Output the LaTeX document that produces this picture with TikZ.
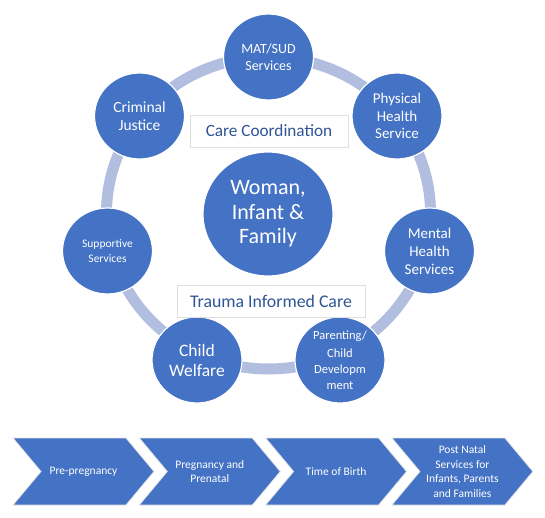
\documentclass[tikz,border=0pt]{standalone}
\usepackage{fontspec}
\setmainfont{Carlito}
\usetikzlibrary{shapes.geometric}

\definecolor{bubblue}{RGB}{68,114,196}
\definecolor{ringblue}{RGB}{178,190,224}
\definecolor{tagblue}{RGB}{47,85,151}

\newcommand{\fsz}[2]{\fontsize{#1}{#2}\selectfont}

\begin{document}
\begin{tikzpicture}[x=1pt, y=-1pt,
  bub/.style={ellipse, fill=bubblue, draw=white, line width=1.2pt, text=white, align=center,
    inner sep=-2pt, minimum width=90pt, minimum height=86pt},
  hub/.style={bub, minimum width=130pt, minimum height=124pt, font=\fsz{22}{24.5}},
  ring/.style={draw=ringblue, line width=11pt},
  tag/.style={draw=black!13, fill=white, text=tagblue, minimum height=32pt, inner sep=0pt},
  chev/.style={fill=bubblue, draw=black!10, line width=0.8pt},
  chevtxt/.style={text=white, align=center, font=\fsz{11.5}{14.5}},
]
  \useasboundingbox (0,0) rectangle (545,518);

  % ring behind the services
  \draw[ring] (268.5,213) ellipse [x radius=162pt, y radius=156pt];

  % centre
  \node[hub] (family) at (268,214) {Woman,\\Infant \&\\Family};

  % services round the ring
  \node[bub, font=\fsz{14}{16.5}] (mat) at (268.5,57) {MAT/SUD\\Services};
  \node[bub, font=\fsz{15}{17.5}] (physical) at (397,116) {Physical\\Health\\Service};
  \node[bub, font=\fsz{15}{18}] (mental) at (429.5,251) {Mental\\Health\\Services};
  \node[bub, font=\fsz{12.5}{16}] (parenting) at (340,360) {Parenting/\\[2pt]Child\\Developm\\ment};
  \node[bub, font=\fsz{17.5}{20}] (welfare) at (197,360) {Child\\Welfare};
  \node[bub, font=\fsz{11.5}{15}] (supportive) at (107.5,251) {Supportive\\Services};
  \node[bub, font=\fsz{15.5}{18}] (justice) at (139.5,116) {Criminal\\Justice};

  % labels inside the ring
  \node[tag, minimum width=158pt, font=\fsz{17.2}{19}] (coord) at (269,131) {Care Coordination};
  \node[tag, minimum width=188pt, font=\fsz{17.8}{20}] (trauma) at (271,301) {Trauma Informed Care};

  % phases along the bottom
  \foreach \i/\txt in {0/Pre-pregnancy, 1/{Pregnancy and\\Prenatal}, 2/Time of Birth,
      3/{Post Natal\\Services for\\Infants, Parents\\and Families}} {
    \pgfmathsetmacro\xa{13+126.3*\i}
    \draw[chev] (\xa,438) -- ++(113,0) -- ++(28,33.5) -- ++(-28,33.5) -- ++(-113,0)
      -- ++(28,-33.5) -- cycle;
    \node[chevtxt] (phase\i) at (\xa+70.5,471.5) {\txt};
  }
\end{tikzpicture}
\end{document}
